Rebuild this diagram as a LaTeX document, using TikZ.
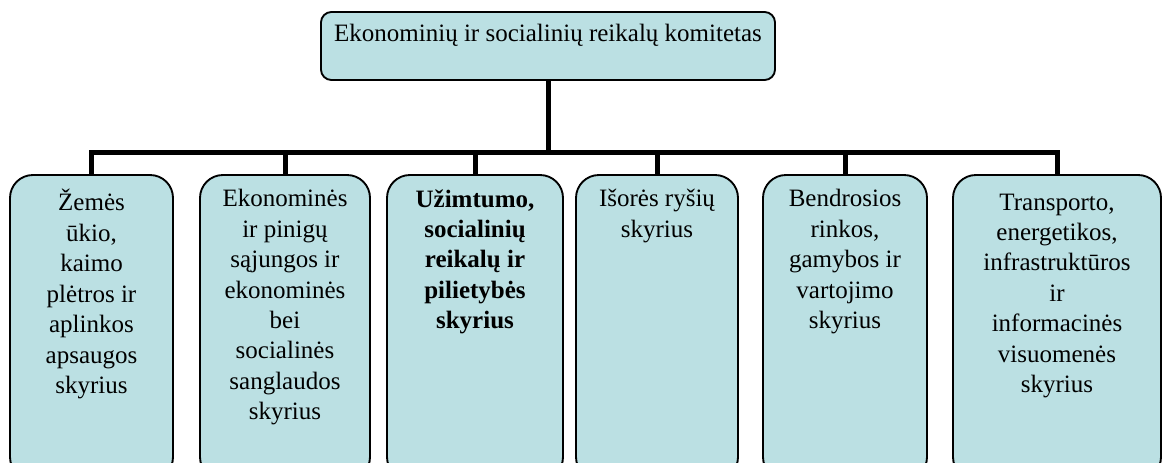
\documentclass[tikz,border=0pt]{standalone}
\usepackage{fontspec}
\setmainfont{Liberation Serif}
\usetikzlibrary{positioning}
\definecolor{boxfill}{RGB}{187,224,227}
\newcommand{\pxu}{0.48pt}
\begin{document}
\begin{tikzpicture}[x=0.48pt,y=-0.48pt,
    komitetas/.style={draw, line width=0.9pt, fill=boxfill, rounded corners=5pt,
      minimum width=454*\pxu, minimum height=68*\pxu, inner sep=0pt},
    skyrius/.style={draw, line width=0.9pt, fill=boxfill, rounded corners=11pt,
      minimum height=305*\pxu, inner sep=0pt},
    boxtext/.style={anchor=north, align=center, inner sep=0pt,
      font=\fontsize{12}{14.6}\selectfont,
      execute at begin node={\rule{0pt}{11pt}}},
    link/.style={line width=2.4pt}]
  \useasboundingbox (0,0) rectangle (1162,462);
  \clip (0,0) rectangle (1162,462);
  \node[komitetas] (Komitetas) at (548,46) {};
  \node[boxtext] at ([yshift=-3.4pt]Komitetas.north)
    {Ekonominių ir socialinių reikalų komitetas};
  \node[skyrius, minimum width=163*\pxu] (Zemes) at (91.5,327.5) {};
  \node[skyrius, minimum width=170*\pxu] (Pinigu) at (285,327.5) {};
  \node[skyrius, minimum width=176*\pxu] (Uzimtumo) at (475,327.5) {};
  \node[skyrius, minimum width=162*\pxu] (Isores) at (657,327.5) {};
  \node[skyrius, minimum width=164*\pxu] (Rinkos) at (845,327.5) {};
  \node[skyrius, minimum width=208*\pxu] (Transporto) at (1057,327.5) {};
  % tekstai skyriuose
  \node[boxtext] at ([yshift=-7.2pt]Zemes.north)
    {Žemės\\ ūkio,\\ kaimo\\ plėtros ir\\ aplinkos\\ apsaugos\\ skyrius};
  \node[boxtext] at ([yshift=-7.2pt]Pinigu.north)
    {Ekonominės\\ ir pinigų\\ sąjungos ir\\ ekonominės\\ bei\\ socialinės\\ sanglaudos\\ skyrius};
  \node[boxtext, font=\fontsize{12}{14.6}\selectfont\bfseries] at ([yshift=-7.2pt]Uzimtumo.north)
    {Užimtumo,\\ socialinių\\ reikalų ir\\ pilietybės\\ skyrius};
  \node[boxtext] at ([yshift=-7.2pt]Isores.north)
    {Išorės ryšių\\ skyrius};
  \node[boxtext] at ([yshift=-7.2pt]Rinkos.north)
    {Bendrosios\\ rinkos,\\ gamybos ir\\ vartojimo\\ skyrius};
  \node[boxtext] at ([yshift=-9.2pt]Transporto.north)
    {Transporto,\\ energetikos,\\ infrastruktūros\\ ir\\ informacinės\\ visuomenės\\ skyrius};
  % jungtys
  \coordinate (Fork) at (548,152);
  \draw[link] (Komitetas.south) -- (Fork);
  \foreach \n in {Zemes,Pinigu,Uzimtumo,Isores,Rinkos,Transporto}
    \draw[link] (Fork) -| (\n.north);
\end{tikzpicture}
\end{document}
